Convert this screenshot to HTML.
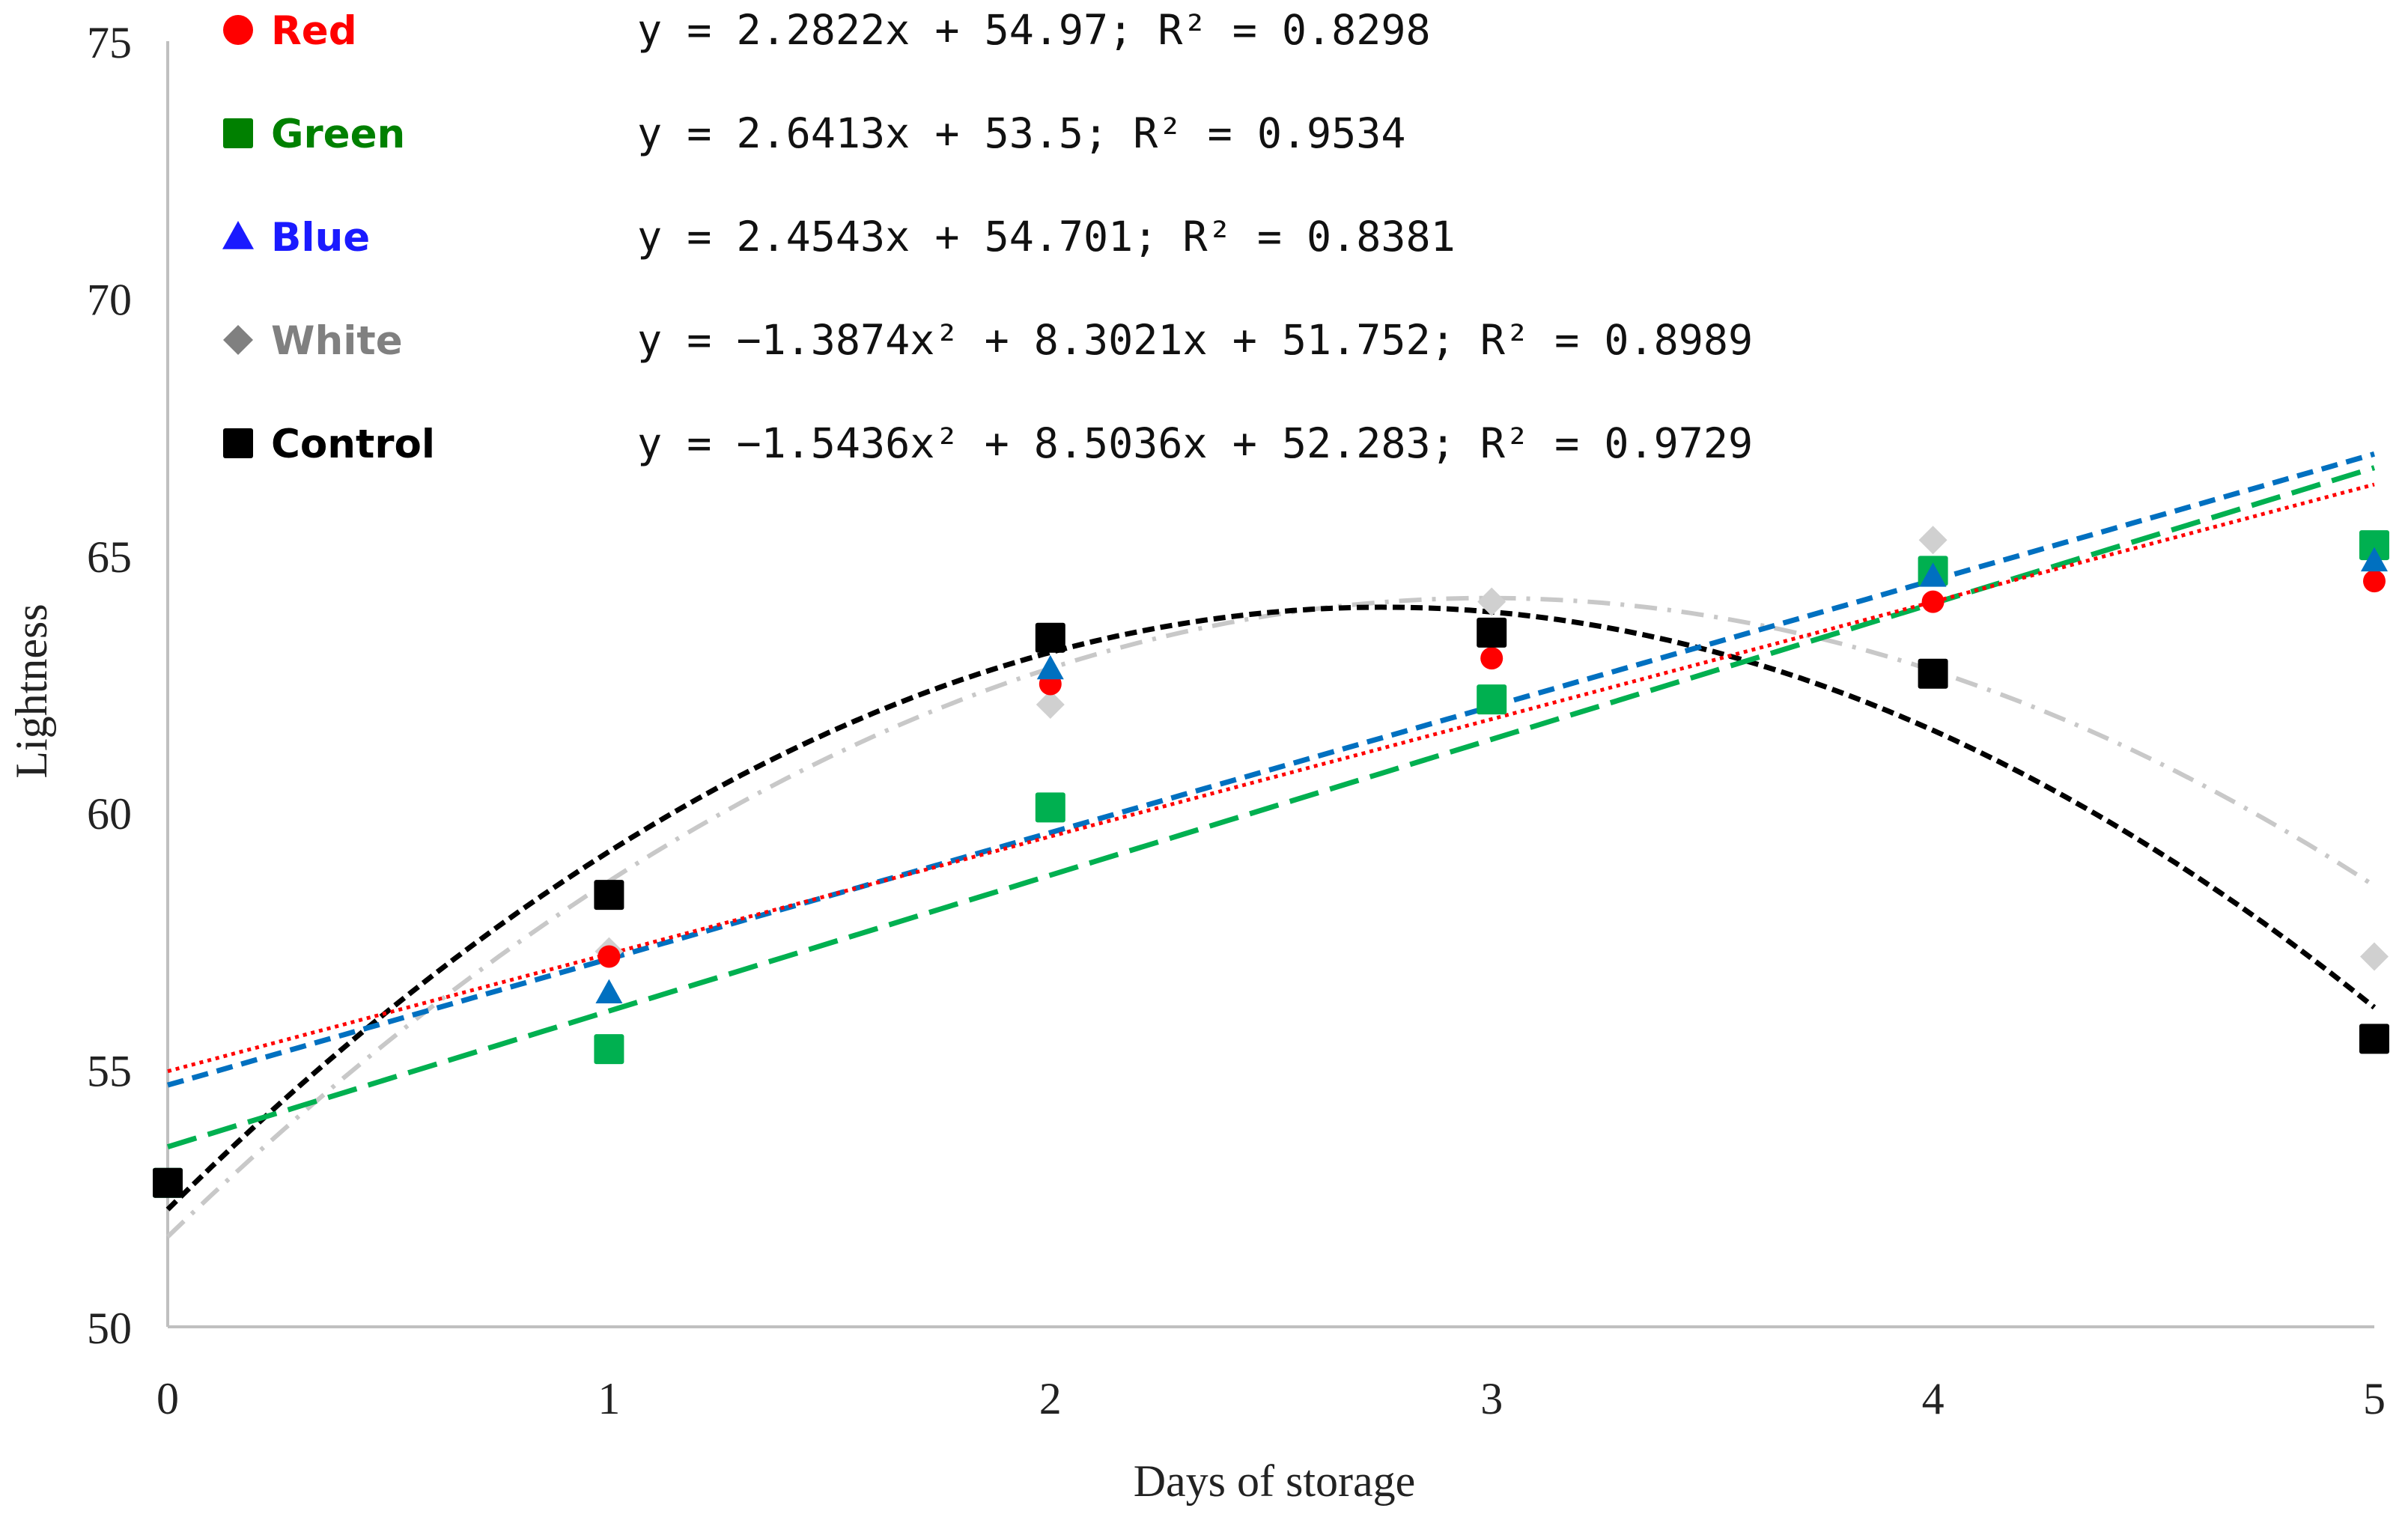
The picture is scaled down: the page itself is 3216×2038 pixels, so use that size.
<!DOCTYPE html>
<html><head><meta charset="utf-8">
<style>
html,body{margin:0;padding:0;background:#fff;}
svg{display:block;}
</style></head>
<body>
<svg id="chart" width="3216" height="2038" xmlns="http://www.w3.org/2000/svg">
  <rect width="3216" height="2038" fill="#fff"/>
  <g id="axes"></g>
  <g id="trends"></g>
  <g id="points"></g>
  <g id="legend"></g>
</svg>
<script>
const days = [0, 1, 2, 3, 4, 5];
const yTicks = [50, 55, 60, 65, 70, 75];
const redVals = [52.8, 57.2, 62.5, 63.0, 64.1, 64.5];
const greenVals = [52.8, 55.4, 60.1, 62.2, 64.7, 65.2];
const blueVals = [52.8, 56.5, 62.8, 63.5, 64.6, 64.9];
const whiteVals = [52.8, 57.3, 62.1, 64.1, 65.3, 57.2];
const controlVals = [52.8, 58.4, 63.4, 63.5, 62.7, 55.6];
const redFit = [0, 2.2822, 54.97];
const greenFit = [0, 2.6413, 53.5];
const blueFit = [0, 2.4543, 54.701];
const whiteFit = [-1.3874, 8.3021, 51.752];
const controlFit = [-1.5436, 8.5036, 52.283];
const legendLabels = ["Red", "Green", "Blue", "White", "Control"];
const equations = [
  "y = 2.2822x + 54.97; R² = 0.8298",
  "y = 2.6413x + 53.5; R² = 0.9534",
  "y = 2.4543x + 54.701; R² = 0.8381",
  "y = −1.3874x² + 8.3021x + 51.752; R² = 0.8989",
  "y = −1.5436x² + 8.5036x + 52.283; R² = 0.9729"
];

const NS = "http://www.w3.org/2000/svg";
const X0 = 224, X1 = 3171, Y0 = 1772, Y1 = 55;
const xs = d => X0 + (d - 0) / 5 * (X1 - X0);
const ys = v => Y0 - (v - 50) / 25 * (Y0 - Y1);
function mk(tag, attrs, parent, text) {
  const e = document.createElementNS(NS, tag);
  for (const k in attrs) e.setAttribute(k, attrs[k]);
  if (text !== undefined) e.textContent = text;
  parent.appendChild(e);
  return e;
}
const axes = document.getElementById('axes');
const trends = document.getElementById('trends');
const points = document.getElementById('points');
const legend = document.getElementById('legend');

let yl = mk('line', {x1: X0, y1: Y1, x2: X0, y2: Y0, stroke: '#c0c0c0', 'stroke-width': 4}, axes);


let xl = mk('line', {x1: X0, y1: Y0, x2: X1, y2: Y0, stroke: '#c0c0c0', 'stroke-width': 4}, axes);



yTicks.forEach(t => {
  const e = mk('text', {x: 176, y: ys(t) + 22, 'text-anchor': 'end', 'font-family': 'Liberation Serif, serif', 'font-size': 60, fill: '#222'}, axes, String(t));
  
  
});
days.forEach(d => {
  const e = mk('text', {x: xs(d), y: 1888, 'text-anchor': 'middle', 'font-family': 'Liberation Serif, serif', 'font-size': 60, fill: '#222'}, axes, String(d));
  
  
});
let xt = mk('text', {x: 1702, y: 1998, 'text-anchor': 'middle', 'font-family': 'Liberation Serif, serif', 'font-size': 60, fill: '#222'}, axes, 'Days of storage');


let yt = mk('text', {x: 0, y: 0, 'text-anchor': 'middle', 'font-family': 'Liberation Serif, serif', 'font-size': 60, fill: '#222', transform: 'translate(62,923) rotate(-90)'}, axes, 'Lightness');



function trend(fit, color, dash, width, name) {
  let d = '';
  for (let i = 0; i <= 100; i++) {
    const x = i / 20;
    const v = fit[0] * x * x + fit[1] * x + fit[2];
    d += (i ? 'L' : 'M') + xs(x).toFixed(1) + ',' + ys(v).toFixed(1);
  }
  const p = mk('path', {d: d, fill: 'none', stroke: color, 'stroke-width': width, 'stroke-dasharray': dash}, trends);
  
  
}
trend(whiteFit, '#c8c8c8', '30 14 5 14', 6, 'white-trendline');
trend(controlFit, '#000', '16 8', 7, 'control-trendline');
trend(greenFit, '#00b050', '40 16', 7, 'green-trendline');
trend(blueFit, '#0070c0', '22 12', 7, 'blue-trendline');
trend(redFit, '#ff0000', '5 6', 5, 'red-trendline');

function marker(shape, cx, cy, color, size, parent) {
  let e;
  const h = size / 2;
  if (shape === 'circle') e = mk('circle', {cx: cx, cy: cy, r: h, fill: color}, parent);
  else if (shape === 'square') e = mk('rect', {x: cx - h, y: cy - h, width: size, height: size, rx: 3, fill: color}, parent);
  else if (shape === 'triangle') e = mk('polygon', {points: `${cx},${cy - h} ${cx + h},${cy + h * 0.8} ${cx - h},${cy + h * 0.8}`, fill: color}, parent);
  else e = mk('polygon', {points: `${cx},${cy - h} ${cx + h},${cy} ${cx},${cy + h} ${cx - h},${cy}`, fill: color}, parent);
  return e;
}
function series(vals, shape, color, size, name) {
  vals.forEach((v, i) => {
    const e = marker(shape, xs(days[i]), ys(v), color, size, points);
    
    
  });
}
series(whiteVals, 'diamond', '#d0d0d0', 38, 'white');
series(redVals, 'circle', '#ff0000', 30, 'red');
series(greenVals, 'square', '#00b050', 40, 'green');
series(blueVals, 'triangle', '#0070c0', 36, 'blue');
series(controlVals, 'square', '#000', 40, 'control');

const legShapes = ['circle', 'square', 'triangle', 'diamond', 'square'];
const legColors = ['#ff0000', '#008000', '#1a1aff', '#808080', '#000'];
const legSizes = [40, 40, 42, 40, 40];
legendLabels.forEach((lab, i) => {
  const cy = 40 + i * 138;
  const m = marker(legShapes[i], 318, cy, legColors[i], legSizes[i], legend);
  
  
  const t = mk('text', {x: 362, y: cy + 19, 'font-family': 'DejaVu Sans, sans-serif', 'font-weight': 'bold', 'font-size': 53, fill: legColors[i]}, legend, lab);
  
  
  const q = mk('text', {x: 851, y: cy + 19, 'font-family': 'DejaVu Sans Mono, Liberation Mono, monospace', 'font-size': 55, fill: '#111'}, legend, equations[i]);
  
  
});
</script>
</body></html>
